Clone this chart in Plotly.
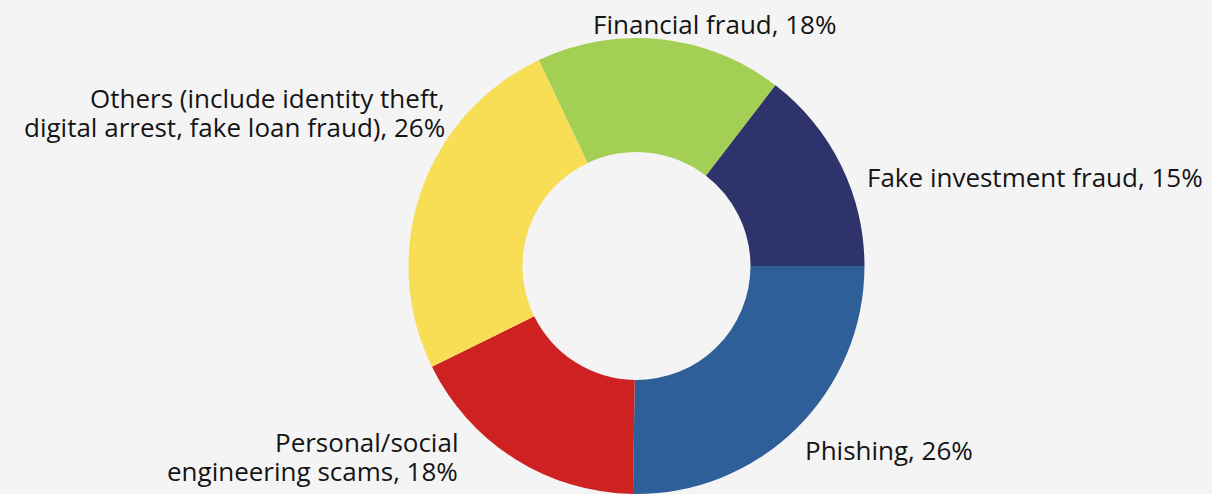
import plotly.graph_objects as go

# Cyber-fraud categories, clockwise from 3 o'clock
categories = [
    "Phishing",
    "Personal/social<br>engineering scams",
    "Others (include identity theft,<br>digital arrest, fake loan fraud)",
    "Financial fraud",
    "Fake investment fraud",
]
shares = [26, 18, 26, 18, 15]  # percent, as published
colors = ["#2f5f98", "#ce2222", "#f8de55", "#a3cf55", "#2f336b"]

W, H = 1212, 494
BG = "#f4f4f4"

fig = go.Figure(
    go.Pie(
        labels=categories,
        values=shares,
        sort=False,
        direction="clockwise",
        rotation=90,
        hole=0.5,
        marker=dict(colors=colors, line=dict(width=0)),
        textinfo="none",
        hoverinfo="label+value",
        showlegend=False,
        domain=dict(x=[0.0503, 1.0], y=[0.0, 1 - 38 / H]),
    )
)

# Label placement: (x px, first-line baseline px, anchor) per category
label_spots = [
    (803, 460, "left"),
    (460, 452, "right"),
    (447, 108, "right"),
    (714, 34, "center"),
    (865, 187, "left"),
]
line_gap = 29
font = dict(family="Open Sans", size=26, color="#141414")

annotations = []
for name, val, (px, base, anchor) in zip(categories, shares, label_spots):
    lines = f"{name}, {val}%".split("<br>")
    for i, line in enumerate(lines):
        y_mid = base + i * line_gap - 10
        annotations.append(
            dict(
                text=line,
                x=px / W,
                y=1 - y_mid / H,
                xref="paper",
                yref="paper",
                xanchor=anchor,
                yanchor="middle",
                showarrow=False,
                font=font,
            )
        )

fig.update_layout(
    width=W,
    height=H,
    margin=dict(l=0, r=0, t=0, b=0),
    paper_bgcolor=BG,
    plot_bgcolor=BG,
    annotations=annotations,
)

fig.write_html("out.html")
